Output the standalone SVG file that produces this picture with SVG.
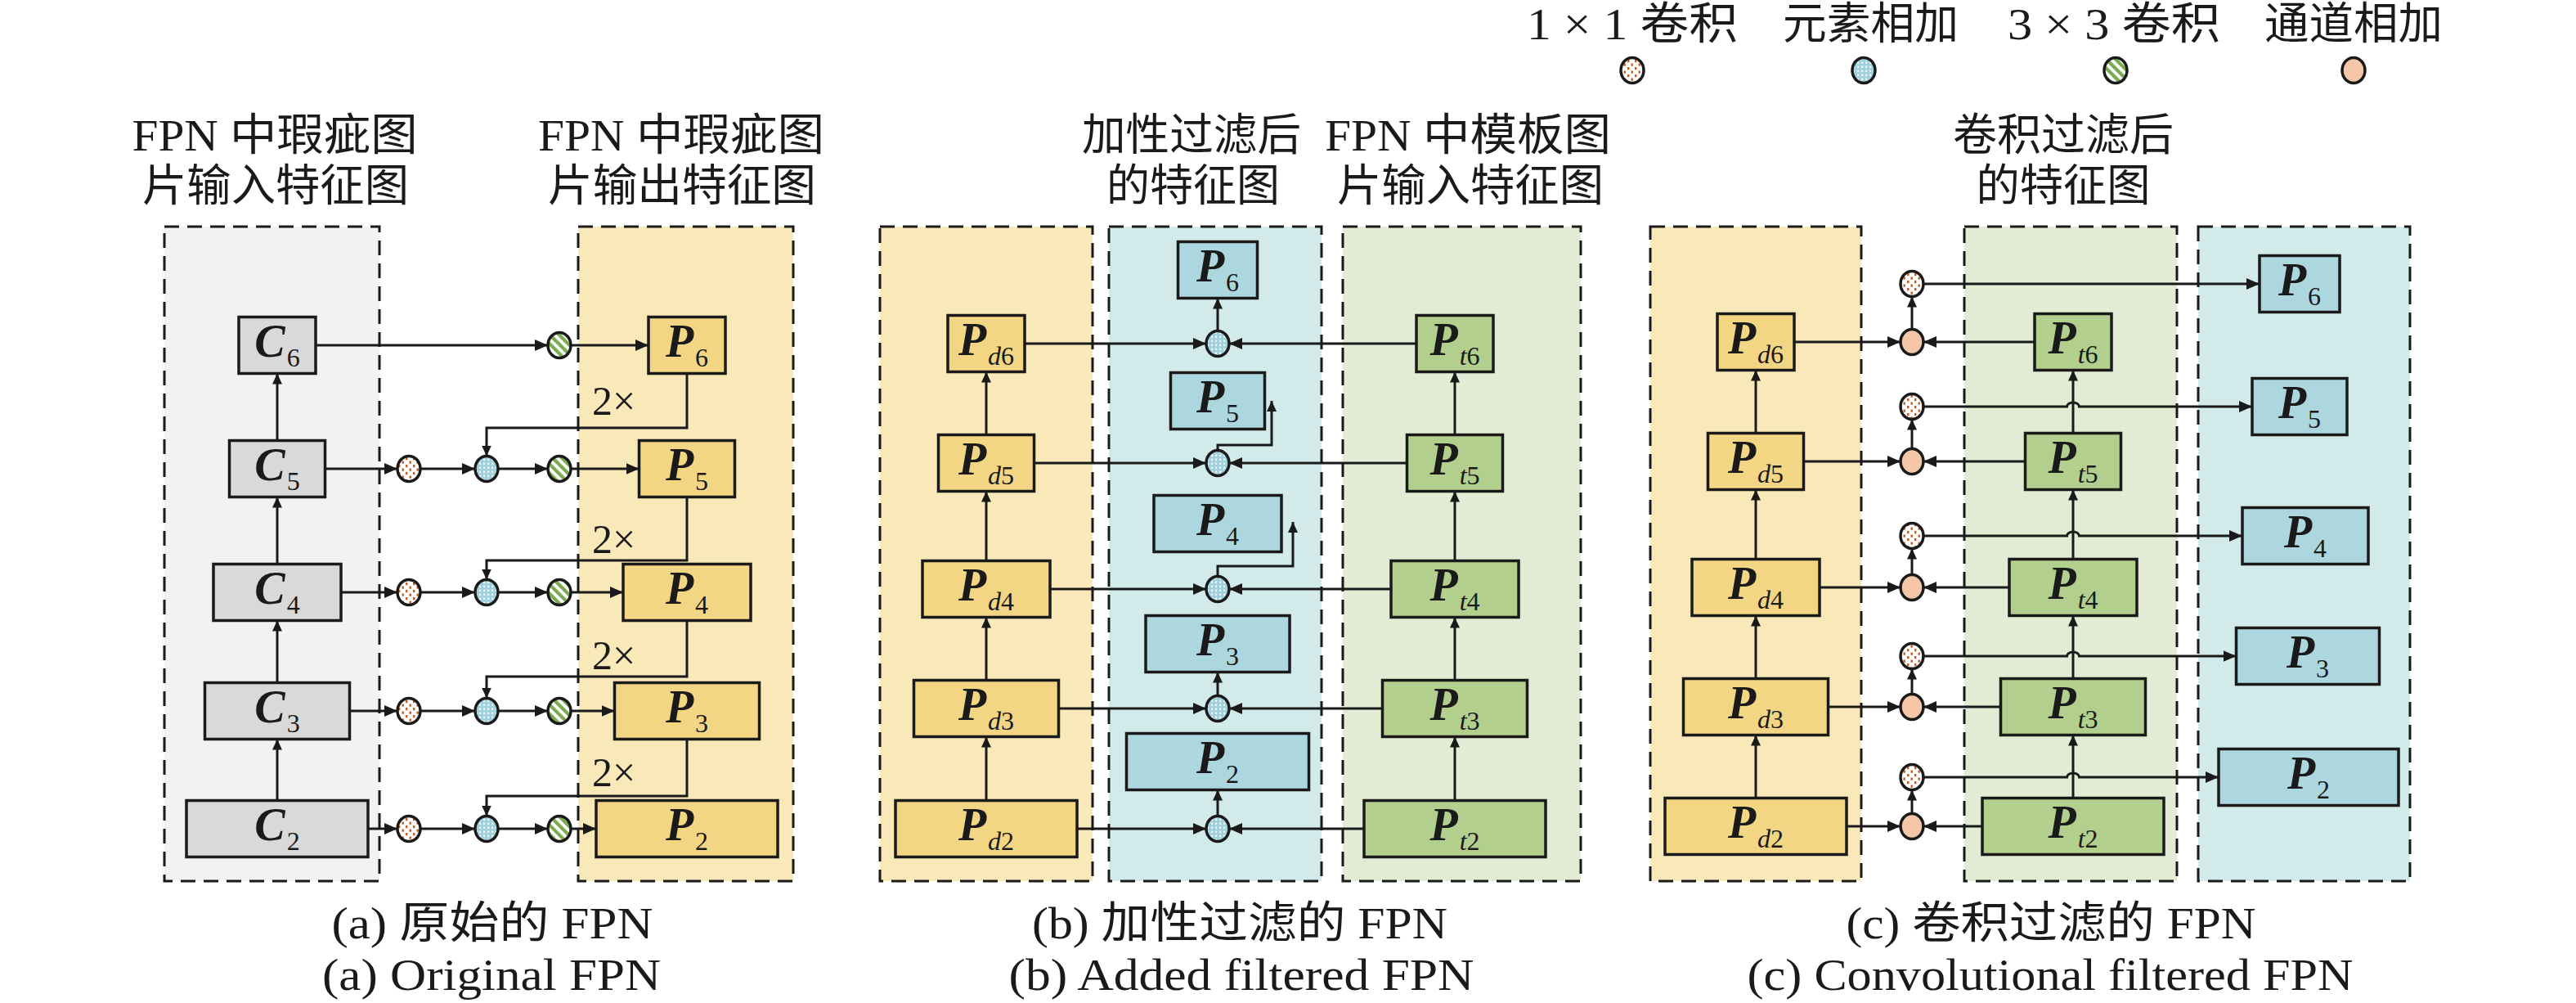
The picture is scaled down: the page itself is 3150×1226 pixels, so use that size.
<svg xmlns="http://www.w3.org/2000/svg" width="3150" height="1226" viewBox="0 0 3150 1226">
<style>
.pn{stroke:#1a1a1a;stroke-width:3;stroke-dasharray:18 10}
.bx{stroke:#1a1a1a;stroke-width:3.5}
.g{fill:#d9d9d9}.y{fill:#f2d684}.b{fill:#add7de}.gr{fill:#b3cf8e}
.ln{fill:none;stroke:#1a1a1a;stroke-width:3}
.h{marker-end:url(#ah)}.v{marker-end:url(#av)}
.cir{stroke:#1a1a1a;stroke-width:3.5}
.lab{font-family:'Liberation Serif',serif;font-weight:bold;font-style:italic;font-size:56px;fill:#1a1a1a}
.sub{font-weight:normal;font-style:normal;font-size:32px}
.it{font-style:italic}
.tx{font-family:'Liberation Serif','Noto Sans CJK SC',serif;font-size:54px;fill:#1a1a1a}
.two{font-family:'Liberation Serif',serif;font-size:50px;fill:#1a1a1a}
</style>
<defs>
<marker id="ah" markerUnits="userSpaceOnUse" markerWidth="16" markerHeight="14" refX="16" refY="7" orient="auto"><path d="M0,0 L16,7 L0,14 z" fill="#1a1a1a"/></marker>
<marker id="av" markerUnits="userSpaceOnUse" markerWidth="13" markerHeight="12" refX="13" refY="6" orient="auto"><path d="M0,0 L13,6 L0,12 z" fill="#1a1a1a"/></marker>
<pattern id="pdot" width="9" height="9" patternUnits="userSpaceOnUse"><rect width="9" height="9" fill="#fff"/><rect x="1" y="1" width="2.4" height="3.2" fill="#c65b21"/><rect x="5.5" y="5.5" width="2.4" height="3.2" fill="#c65b21"/></pattern>
<pattern id="pblue" width="5" height="5" patternUnits="userSpaceOnUse"><rect width="5" height="5" fill="#9fd0db"/><rect x="1" y="0.5" width="2.2" height="2.6" fill="#eaf6f8"/></pattern>
<pattern id="pgreen" width="8" height="8" patternUnits="userSpaceOnUse" patternTransform="rotate(-45)"><rect width="8" height="8" fill="#fff"/><rect width="4.2" height="8" fill="#79aa4e"/></pattern>
</defs>
<rect width="3150" height="1226" fill="#fff"/>

<g id="legend">
<text class="tx" x="1867" y="48" textLength="258" lengthAdjust="spacingAndGlyphs">1 × 1 卷积</text>
<text class="tx" x="2180" y="48" textLength="215" lengthAdjust="spacingAndGlyphs">元素相加</text>
<text class="tx" x="2455" y="48" textLength="260" lengthAdjust="spacingAndGlyphs">3 × 3 卷积</text>
<text class="tx" x="2769" y="48" textLength="218" lengthAdjust="spacingAndGlyphs">通道相加</text>
<ellipse class="cir" cx="1996" cy="86" rx="14" ry="15.5" fill="url(#pdot)"/>
<ellipse class="cir" cx="2279" cy="86" rx="14" ry="15.5" fill="url(#pblue)"/>
<ellipse class="cir" cx="2587" cy="86" rx="14" ry="15.5" fill="url(#pgreen)"/>
<ellipse class="cir" cx="2878" cy="86" rx="14" ry="15.5" fill="#f5c6a8"/>
</g>

<g id="panels">
<rect class="pn" x="201" y="277" width="263" height="800" fill="#f2f2f2"/>
<rect class="pn" x="707" y="277" width="263" height="800" fill="#f9e8b8"/>
<rect class="pn" x="1076" y="277" width="260" height="800" fill="#f9e8b8"/>
<rect class="pn" x="1356" y="277" width="260" height="800" fill="#d3eaeb"/>
<rect class="pn" x="1642" y="277" width="291" height="800" fill="#e2ecd4"/>
<rect class="pn" x="2018" y="277" width="258" height="800" fill="#f9e8b8"/>
<rect class="pn" x="2402" y="277" width="260" height="800" fill="#e2ecd4"/>
<rect class="pn" x="2688" y="277" width="259" height="800" fill="#d3eaeb"/>
</g>

<g id="titles">
<text class="tx" x="336" y="184" text-anchor="middle" textLength="349" lengthAdjust="spacingAndGlyphs">FPN 中瑕疵图</text>
<text class="tx" x="337" y="246" text-anchor="middle" textLength="326" lengthAdjust="spacingAndGlyphs">片输入特征图</text>
<text class="tx" x="833" y="184" text-anchor="middle" textLength="350" lengthAdjust="spacingAndGlyphs">FPN 中瑕疵图</text>
<text class="tx" x="834" y="246" text-anchor="middle" textLength="328" lengthAdjust="spacingAndGlyphs">片输出特征图</text>
<text class="tx" x="1457" y="184" text-anchor="middle" textLength="268" lengthAdjust="spacingAndGlyphs">加性过滤后</text>
<text class="tx" x="1459" y="246" text-anchor="middle" textLength="212" lengthAdjust="spacingAndGlyphs">的特征图</text>
<text class="tx" x="1795" y="184" text-anchor="middle" textLength="350" lengthAdjust="spacingAndGlyphs">FPN 中模板图</text>
<text class="tx" x="1798" y="246" text-anchor="middle" textLength="326" lengthAdjust="spacingAndGlyphs">片输入特征图</text>
<text class="tx" x="2523" y="184" text-anchor="middle" textLength="270" lengthAdjust="spacingAndGlyphs">卷积过滤后</text>
<text class="tx" x="2523" y="246" text-anchor="middle" textLength="213" lengthAdjust="spacingAndGlyphs">的特征图</text>
</g>

<g id="connectors">
<!-- panel a -->
<path class="ln h" d="M386,422 H670"/><path class="ln h" d="M698,422 H793"/>
<path class="ln h" d="M397.5,573 H486"/><path class="ln h" d="M514,573 H581"/><path class="ln h" d="M609,573 H670"/><path class="ln h" d="M698,573 H781.5"/>
<path class="ln h" d="M417,724 H486"/><path class="ln h" d="M514,724 H581"/><path class="ln h" d="M609,724 H670"/><path class="ln h" d="M698,724 H762"/>
<path class="ln h" d="M427.5,869 H486"/><path class="ln h" d="M514,869 H581"/><path class="ln h" d="M609,869 H670"/><path class="ln h" d="M698,869 H751.5"/>
<path class="ln h" d="M450,1013 H486"/><path class="ln h" d="M514,1013 H581"/><path class="ln h" d="M609,1013 H670"/><path class="ln h" d="M698,1013 H729"/>
<path class="ln v" d="M339,538.5 V456.5"/><path class="ln v" d="M339,689.5 V607.5"/><path class="ln v" d="M339,834.5 V758.5"/><path class="ln v" d="M339,978.5 V903.5"/>
<path class="ln v" d="M840,456.5 V523 H595 V557.5"/>
<path class="ln v" d="M840,607.5 V685 H595 V708.5"/>
<path class="ln v" d="M840,758.5 V827 H595 V853.5"/>
<path class="ln v" d="M840,903.5 V973 H595 V997.5"/>
<!-- panel b -->
<path class="ln h" d="M1253,420 H1475"/><path class="ln h" d="M1732,420 H1503"/>
<path class="ln h" d="M1264.5,566 H1475"/><path class="ln h" d="M1720.5,566 H1503"/>
<path class="ln h" d="M1284,720 H1475"/><path class="ln h" d="M1701,720 H1503"/>
<path class="ln h" d="M1294.5,866 H1475"/><path class="ln h" d="M1690.5,866 H1503"/>
<path class="ln h" d="M1317,1013 H1475"/><path class="ln h" d="M1668,1013 H1503"/>
<path class="ln v" d="M1489,404.5 V364.5"/><path class="ln v" d="M1489,850.5 V821.5"/><path class="ln v" d="M1489,997.5 V965.5"/>
<path class="ln v" d="M1489,550.5 V544 H1555 V490"/>
<path class="ln v" d="M1489,704.5 V692 H1581 V638"/>
<path class="ln v" d="M1206,531.5 V454.5"/><path class="ln v" d="M1206,685.5 V600.5"/><path class="ln v" d="M1206,831.5 V754.5"/><path class="ln v" d="M1206,978.5 V900.5"/>
<path class="ln v" d="M1779,531.5 V454.5"/><path class="ln v" d="M1779,685.5 V600.5"/><path class="ln v" d="M1779,831.5 V754.5"/><path class="ln v" d="M1779,978.5 V900.5"/>
<!-- panel c -->
<path class="ln h" d="M2194,418 H2324"/><path class="ln h" d="M2488,418 H2352"/><path class="ln v" d="M2338,402.5 V362.5"/><path class="ln h" d="M2352,347 H2763"/>
<path class="ln h" d="M2205.5,564 H2324"/><path class="ln h" d="M2476.5,564 H2352"/><path class="ln v" d="M2338,548.5 V512.5"/><path class="ln h" d="M2352,497 H2527.5 a7.5,5 0 0 1 15,0 H2754"/>
<path class="ln h" d="M2225,718 H2324"/><path class="ln h" d="M2457,718 H2352"/><path class="ln v" d="M2338,702.5 V670.5"/><path class="ln h" d="M2352,655 H2527.5 a7.5,5 0 0 1 15,0 H2742"/>
<path class="ln h" d="M2235.5,864 H2324"/><path class="ln h" d="M2446.5,864 H2352"/><path class="ln v" d="M2338,848.5 V817.5"/><path class="ln h" d="M2352,802 H2527.5 a7.5,5 0 0 1 15,0 H2734.5"/>
<path class="ln h" d="M2258,1010 H2324"/><path class="ln h" d="M2424,1010 H2352"/><path class="ln v" d="M2338,994.5 V965.5"/><path class="ln h" d="M2352,950 H2527.5 a7.5,5 0 0 1 15,0 H2713"/>
<path class="ln v" d="M2147,529.5 V452.5"/><path class="ln v" d="M2147,683.5 V598.5"/><path class="ln v" d="M2147,829.5 V752.5"/><path class="ln v" d="M2147,975.5 V898.5"/>
<path class="ln v" d="M2535,529.5 V452.5"/><path class="ln v" d="M2535,683.5 V598.5"/><path class="ln v" d="M2535,829.5 V752.5"/><path class="ln v" d="M2535,975.5 V898.5"/>
</g>

<g id="ops">
<ellipse class="cir" cx="684" cy="422" rx="14" ry="15.5" fill="url(#pgreen)"/>
<ellipse class="cir" cx="500" cy="573" rx="14" ry="15.5" fill="url(#pdot)"/><ellipse class="cir" cx="595" cy="573" rx="14" ry="15.5" fill="url(#pblue)"/><ellipse class="cir" cx="684" cy="573" rx="14" ry="15.5" fill="url(#pgreen)"/>
<ellipse class="cir" cx="500" cy="724" rx="14" ry="15.5" fill="url(#pdot)"/><ellipse class="cir" cx="595" cy="724" rx="14" ry="15.5" fill="url(#pblue)"/><ellipse class="cir" cx="684" cy="724" rx="14" ry="15.5" fill="url(#pgreen)"/>
<ellipse class="cir" cx="500" cy="869" rx="14" ry="15.5" fill="url(#pdot)"/><ellipse class="cir" cx="595" cy="869" rx="14" ry="15.5" fill="url(#pblue)"/><ellipse class="cir" cx="684" cy="869" rx="14" ry="15.5" fill="url(#pgreen)"/>
<ellipse class="cir" cx="500" cy="1013" rx="14" ry="15.5" fill="url(#pdot)"/><ellipse class="cir" cx="595" cy="1013" rx="14" ry="15.5" fill="url(#pblue)"/><ellipse class="cir" cx="684" cy="1013" rx="14" ry="15.5" fill="url(#pgreen)"/>
<ellipse class="cir" cx="1489" cy="420" rx="14" ry="15.5" fill="url(#pblue)"/>
<ellipse class="cir" cx="1489" cy="566" rx="14" ry="15.5" fill="url(#pblue)"/>
<ellipse class="cir" cx="1489" cy="720" rx="14" ry="15.5" fill="url(#pblue)"/>
<ellipse class="cir" cx="1489" cy="866" rx="14" ry="15.5" fill="url(#pblue)"/>
<ellipse class="cir" cx="1489" cy="1013" rx="14" ry="15.5" fill="url(#pblue)"/>
<ellipse class="cir" cx="2338" cy="418" rx="14" ry="15.5" fill="#f5c6a8"/><ellipse class="cir" cx="2338" cy="347" rx="14" ry="15.5" fill="url(#pdot)"/>
<ellipse class="cir" cx="2338" cy="564" rx="14" ry="15.5" fill="#f5c6a8"/><ellipse class="cir" cx="2338" cy="497" rx="14" ry="15.5" fill="url(#pdot)"/>
<ellipse class="cir" cx="2338" cy="718" rx="14" ry="15.5" fill="#f5c6a8"/><ellipse class="cir" cx="2338" cy="655" rx="14" ry="15.5" fill="url(#pdot)"/>
<ellipse class="cir" cx="2338" cy="864" rx="14" ry="15.5" fill="#f5c6a8"/><ellipse class="cir" cx="2338" cy="802" rx="14" ry="15.5" fill="url(#pdot)"/>
<ellipse class="cir" cx="2338" cy="1010" rx="14" ry="15.5" fill="#f5c6a8"/><ellipse class="cir" cx="2338" cy="950" rx="14" ry="15.5" fill="url(#pdot)"/>
</g>

<g id="upsample-labels">
<text class="two" x="724" y="507">2×</text>
<text class="two" x="724" y="676">2×</text>
<text class="two" x="724" y="818">2×</text>
<text class="two" x="724" y="961">2×</text>
</g>

<!-- panel a nodes -->
<g id="a-C6"><rect class="bx g" x="292" y="387.5" width="94" height="69"/><text class="lab" x="339" y="436" text-anchor="middle">C<tspan class="sub" dx="2" dy="12">6</tspan></text></g>
<g id="a-C5"><rect class="bx g" x="280.5" y="538.5" width="117" height="69"/><text class="lab" x="339" y="587" text-anchor="middle">C<tspan class="sub" dx="2" dy="12">5</tspan></text></g>
<g id="a-C4"><rect class="bx g" x="261" y="689.5" width="156" height="69"/><text class="lab" x="339" y="738" text-anchor="middle">C<tspan class="sub" dx="2" dy="12">4</tspan></text></g>
<g id="a-C3"><rect class="bx g" x="250.5" y="834.5" width="177" height="69"/><text class="lab" x="339" y="883" text-anchor="middle">C<tspan class="sub" dx="2" dy="12">3</tspan></text></g>
<g id="a-C2"><rect class="bx g" x="228" y="978.5" width="222" height="69"/><text class="lab" x="339" y="1027" text-anchor="middle">C<tspan class="sub" dx="2" dy="12">2</tspan></text></g>
<g id="a-P6"><rect class="bx y" x="793" y="387.5" width="94" height="69"/><text class="lab" x="840" y="436" text-anchor="middle">P<tspan class="sub" dx="2" dy="12">6</tspan></text></g>
<g id="a-P5"><rect class="bx y" x="781.5" y="538.5" width="117" height="69"/><text class="lab" x="840" y="587" text-anchor="middle">P<tspan class="sub" dx="2" dy="12">5</tspan></text></g>
<g id="a-P4"><rect class="bx y" x="762" y="689.5" width="156" height="69"/><text class="lab" x="840" y="738" text-anchor="middle">P<tspan class="sub" dx="2" dy="12">4</tspan></text></g>
<g id="a-P3"><rect class="bx y" x="751.5" y="834.5" width="177" height="69"/><text class="lab" x="840" y="883" text-anchor="middle">P<tspan class="sub" dx="2" dy="12">3</tspan></text></g>
<g id="a-P2"><rect class="bx y" x="729" y="978.5" width="222" height="69"/><text class="lab" x="840" y="1027" text-anchor="middle">P<tspan class="sub" dx="2" dy="12">2</tspan></text></g>

<!-- panel b nodes -->
<g id="b-Pd6"><rect class="bx y" x="1159" y="385.5" width="94" height="69"/><text class="lab" x="1206" y="434" text-anchor="middle">P<tspan class="sub" dx="2" dy="12"><tspan class="it">d</tspan>6</tspan></text></g>
<g id="b-Pd5"><rect class="bx y" x="1147.5" y="531.5" width="117" height="69"/><text class="lab" x="1206" y="580" text-anchor="middle">P<tspan class="sub" dx="2" dy="12"><tspan class="it">d</tspan>5</tspan></text></g>
<g id="b-Pd4"><rect class="bx y" x="1128" y="685.5" width="156" height="69"/><text class="lab" x="1206" y="734" text-anchor="middle">P<tspan class="sub" dx="2" dy="12"><tspan class="it">d</tspan>4</tspan></text></g>
<g id="b-Pd3"><rect class="bx y" x="1117.5" y="831.5" width="177" height="69"/><text class="lab" x="1206" y="880" text-anchor="middle">P<tspan class="sub" dx="2" dy="12"><tspan class="it">d</tspan>3</tspan></text></g>
<g id="b-Pd2"><rect class="bx y" x="1095" y="978.5" width="222" height="69"/><text class="lab" x="1206" y="1027" text-anchor="middle">P<tspan class="sub" dx="2" dy="12"><tspan class="it">d</tspan>2</tspan></text></g>
<g id="b-Pt6"><rect class="bx gr" x="1732" y="385.5" width="94" height="69"/><text class="lab" x="1779" y="434" text-anchor="middle">P<tspan class="sub" dx="2" dy="12"><tspan class="it">t</tspan>6</tspan></text></g>
<g id="b-Pt5"><rect class="bx gr" x="1720.5" y="531.5" width="117" height="69"/><text class="lab" x="1779" y="580" text-anchor="middle">P<tspan class="sub" dx="2" dy="12"><tspan class="it">t</tspan>5</tspan></text></g>
<g id="b-Pt4"><rect class="bx gr" x="1701" y="685.5" width="156" height="69"/><text class="lab" x="1779" y="734" text-anchor="middle">P<tspan class="sub" dx="2" dy="12"><tspan class="it">t</tspan>4</tspan></text></g>
<g id="b-Pt3"><rect class="bx gr" x="1690.5" y="831.5" width="177" height="69"/><text class="lab" x="1779" y="880" text-anchor="middle">P<tspan class="sub" dx="2" dy="12"><tspan class="it">t</tspan>3</tspan></text></g>
<g id="b-Pt2"><rect class="bx gr" x="1668" y="978.5" width="222" height="69"/><text class="lab" x="1779" y="1027" text-anchor="middle">P<tspan class="sub" dx="2" dy="12"><tspan class="it">t</tspan>2</tspan></text></g>
<g id="b-P6"><rect class="bx b" x="1440.5" y="295.5" width="97" height="69"/><text class="lab" x="1489" y="344" text-anchor="middle">P<tspan class="sub" dx="2" dy="12">6</tspan></text></g>
<g id="b-P5"><rect class="bx b" x="1431.5" y="455.5" width="115" height="69"/><text class="lab" x="1489" y="504" text-anchor="middle">P<tspan class="sub" dx="2" dy="12">5</tspan></text></g>
<g id="b-P4"><rect class="bx b" x="1411" y="605.5" width="156" height="69"/><text class="lab" x="1489" y="654" text-anchor="middle">P<tspan class="sub" dx="2" dy="12">4</tspan></text></g>
<g id="b-P3"><rect class="bx b" x="1401" y="752.5" width="176" height="69"/><text class="lab" x="1489" y="801" text-anchor="middle">P<tspan class="sub" dx="2" dy="12">3</tspan></text></g>
<g id="b-P2"><rect class="bx b" x="1377.5" y="896.5" width="223" height="69"/><text class="lab" x="1489" y="945" text-anchor="middle">P<tspan class="sub" dx="2" dy="12">2</tspan></text></g>

<!-- panel c nodes -->
<g id="c-Pd6"><rect class="bx y" x="2100" y="383.5" width="94" height="69"/><text class="lab" x="2147" y="432" text-anchor="middle">P<tspan class="sub" dx="2" dy="12"><tspan class="it">d</tspan>6</tspan></text></g>
<g id="c-Pd5"><rect class="bx y" x="2088.5" y="529.5" width="117" height="69"/><text class="lab" x="2147" y="578" text-anchor="middle">P<tspan class="sub" dx="2" dy="12"><tspan class="it">d</tspan>5</tspan></text></g>
<g id="c-Pd4"><rect class="bx y" x="2069" y="683.5" width="156" height="69"/><text class="lab" x="2147" y="732" text-anchor="middle">P<tspan class="sub" dx="2" dy="12"><tspan class="it">d</tspan>4</tspan></text></g>
<g id="c-Pd3"><rect class="bx y" x="2058.5" y="829.5" width="177" height="69"/><text class="lab" x="2147" y="878" text-anchor="middle">P<tspan class="sub" dx="2" dy="12"><tspan class="it">d</tspan>3</tspan></text></g>
<g id="c-Pd2"><rect class="bx y" x="2036" y="975.5" width="222" height="69"/><text class="lab" x="2147" y="1024" text-anchor="middle">P<tspan class="sub" dx="2" dy="12"><tspan class="it">d</tspan>2</tspan></text></g>
<g id="c-Pt6"><rect class="bx gr" x="2488" y="383.5" width="94" height="69"/><text class="lab" x="2535" y="432" text-anchor="middle">P<tspan class="sub" dx="2" dy="12"><tspan class="it">t</tspan>6</tspan></text></g>
<g id="c-Pt5"><rect class="bx gr" x="2476.5" y="529.5" width="117" height="69"/><text class="lab" x="2535" y="578" text-anchor="middle">P<tspan class="sub" dx="2" dy="12"><tspan class="it">t</tspan>5</tspan></text></g>
<g id="c-Pt4"><rect class="bx gr" x="2457" y="683.5" width="156" height="69"/><text class="lab" x="2535" y="732" text-anchor="middle">P<tspan class="sub" dx="2" dy="12"><tspan class="it">t</tspan>4</tspan></text></g>
<g id="c-Pt3"><rect class="bx gr" x="2446.5" y="829.5" width="177" height="69"/><text class="lab" x="2535" y="878" text-anchor="middle">P<tspan class="sub" dx="2" dy="12"><tspan class="it">t</tspan>3</tspan></text></g>
<g id="c-Pt2"><rect class="bx gr" x="2424" y="975.5" width="222" height="69"/><text class="lab" x="2535" y="1024" text-anchor="middle">P<tspan class="sub" dx="2" dy="12"><tspan class="it">t</tspan>2</tspan></text></g>
<g id="c-P6"><rect class="bx b" x="2763" y="312.5" width="98" height="69"/><text class="lab" x="2812" y="361" text-anchor="middle">P<tspan class="sub" dx="2" dy="12">6</tspan></text></g>
<g id="c-P5"><rect class="bx b" x="2754" y="462.5" width="116" height="69"/><text class="lab" x="2812" y="511" text-anchor="middle">P<tspan class="sub" dx="2" dy="12">5</tspan></text></g>
<g id="c-P4"><rect class="bx b" x="2742" y="620.5" width="154" height="69"/><text class="lab" x="2819" y="669" text-anchor="middle">P<tspan class="sub" dx="2" dy="12">4</tspan></text></g>
<g id="c-P3"><rect class="bx b" x="2734.5" y="767.5" width="175" height="69"/><text class="lab" x="2822" y="816" text-anchor="middle">P<tspan class="sub" dx="2" dy="12">3</tspan></text></g>
<g id="c-P2"><rect class="bx b" x="2713" y="915.5" width="220" height="69"/><text class="lab" x="2823" y="964" text-anchor="middle">P<tspan class="sub" dx="2" dy="12">2</tspan></text></g>

<g id="captions">
<text class="tx" x="602" y="1147" text-anchor="middle" textLength="393" lengthAdjust="spacingAndGlyphs">(a) 原始的 FPN</text>
<text class="tx" x="601" y="1210" text-anchor="middle" textLength="414" lengthAdjust="spacingAndGlyphs">(a) Original FPN</text>
<text class="tx" x="1516" y="1147" text-anchor="middle" textLength="508" lengthAdjust="spacingAndGlyphs">(b) 加性过滤的 FPN</text>
<text class="tx" x="1518" y="1210" text-anchor="middle" textLength="569" lengthAdjust="spacingAndGlyphs">(b) Added filtered FPN</text>
<text class="tx" x="2508" y="1147" text-anchor="middle" textLength="501" lengthAdjust="spacingAndGlyphs">(c) 卷积过滤的 FPN</text>
<text class="tx" x="2507" y="1210" text-anchor="middle" textLength="741" lengthAdjust="spacingAndGlyphs">(c) Convolutional filtered FPN</text>
</g>
</svg>
